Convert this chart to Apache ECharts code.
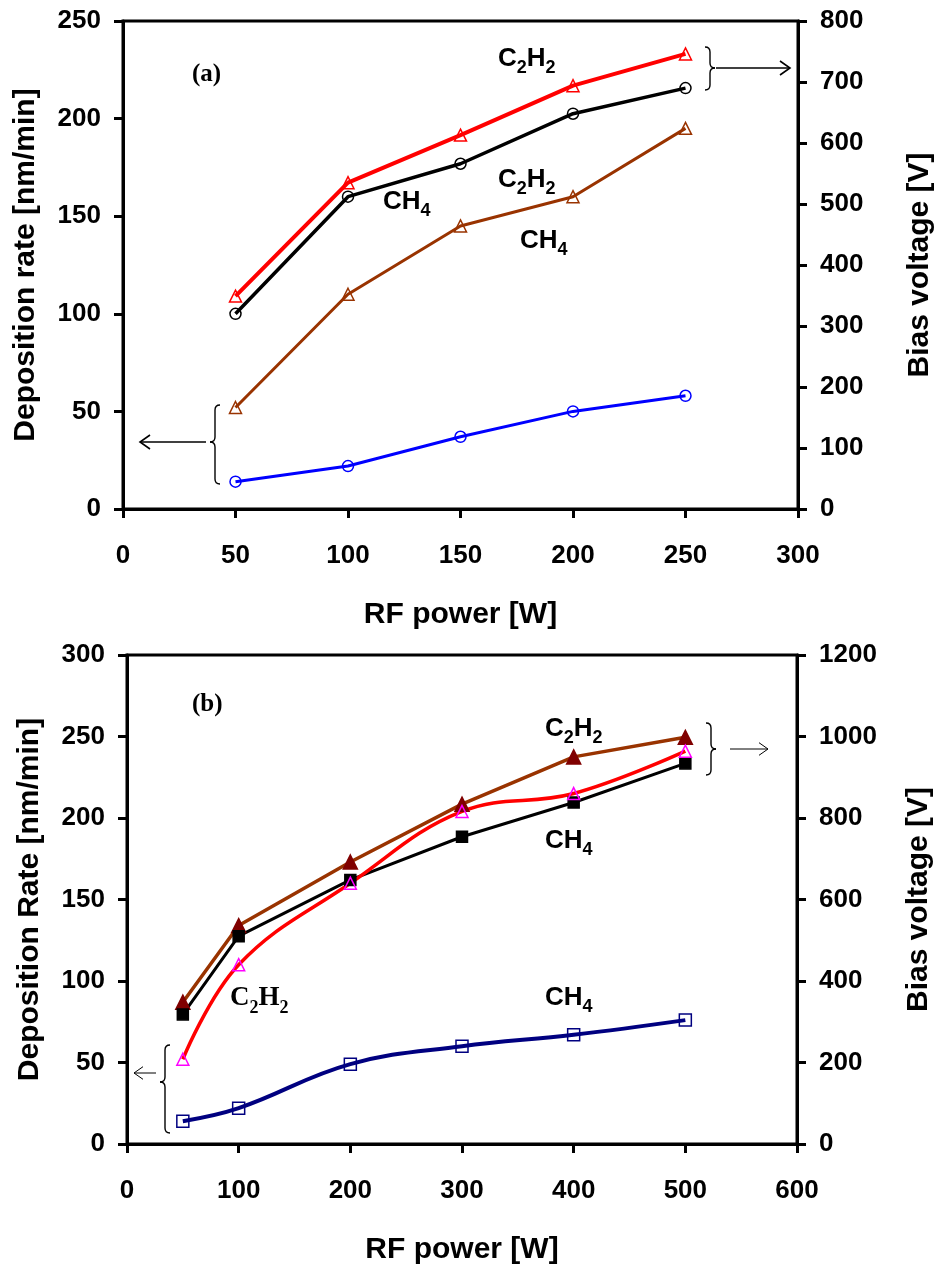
<!DOCTYPE html>
<html>
<head>
<meta charset="utf-8">
<script src="https://cdn.jsdelivr.net/npm/echarts@6/dist/echarts.min.js"></script>
<style>
html,body{margin:0;padding:0;background:#fff;}
#c{width:943px;height:1274px;}
</style>
</head>
<body>
<div id="c"></div>
<script>
// ---------- DATA ----------
// Panel (a)
const powerA = [50, 100, 150, 200, 250];
const biasA_C2H2 = [349, 535, 613, 694, 746];   // right axis, V
const biasA_CH4 = [320, 512, 566, 648, 690];    // right axis, V
const rateA_C2H2 = [52, 110, 145, 160, 195];    // left axis, nm/min
const rateA_CH4 = [14, 22, 37, 50, 58];         // left axis, nm/min
// Panel (b)
const powerB = [50, 100, 200, 300, 400, 500];
const biasB_C2H2 = [348, 536, 692, 834, 950, 998];
const biasB_CH4 = [318, 510, 648, 754, 838, 934];
const rateB_C2H2 = [52, 110, 160, 204, 215, 241];
const rateB_CH4 = [14, 22, 49, 60, 67, 76];
// Axis ranges / ticks
const xA = {min: 0, max: 300, interval: 50};
const yA_left = {min: 0, max: 250, interval: 50};
const yA_right = {min: 0, max: 800, interval: 100};
const xB = {min: 0, max: 600, interval: 100};
const yB_left = {min: 0, max: 300, interval: 50};
const yB_right = {min: 0, max: 1200, interval: 200};

const pairs = (xs, ys) => xs.map((x, i) => [x, ys[i]]);

const SANS = "'Liberation Sans', Arial, sans-serif";
const SERIF = "'Liberation Serif', 'Times New Roman', serif";
const TICK = 26, TITLE = 30;

function xAxis(grid, r) {
  return {
    type: 'value', gridIndex: grid, min: r.min, max: r.max, interval: r.interval,
    name: 'RF power [W]', nameLocation: 'middle', nameGap: 91,
    nameTextStyle: {fontFamily: SANS, fontWeight: 'bold', fontSize: TITLE, color: '#000'},
    axisLine: {show: true, lineStyle: {color: '#000', width: 3}},
    axisTick: {show: true, inside: false, length: 9, lineStyle: {color: '#000', width: 3}},
    axisLabel: {margin: 34, fontFamily: SANS, fontWeight: 'bold', fontSize: TICK, color: '#000',
      formatter: v => String(v)},
    splitLine: {show: false}
  };
}
function yAxis(grid, r, pos, name, gap) {
  return {
    type: 'value', gridIndex: grid, position: pos, min: r.min, max: r.max, interval: r.interval,
    name: name, nameLocation: 'middle', nameGap: gap,
    nameTextStyle: {fontFamily: SANS, fontWeight: 'bold', fontSize: TITLE, color: '#000'},
    axisLine: {show: true, onZero: false, lineStyle: {color: '#000', width: 3}},
    axisTick: {show: true, inside: false, length: 9, lineStyle: {color: '#000', width: 3}},
    axisLabel: {margin: 22, fontFamily: SANS, fontWeight: 'bold', fontSize: TICK, color: '#000',
      formatter: v => String(v)},
    splitLine: {show: false}
  };
}

function line(name, xi, yi, data, color, width, symbol, size, fill, border, smooth) {
  return {
    name: name, type: 'line', xAxisIndex: xi, yAxisIndex: yi, data: data,
    smooth: smooth || false, symbol: symbol, symbolSize: size, showSymbol: true,
    lineStyle: {color: color, width: width},
    itemStyle: {color: fill, borderColor: border, borderWidth: 1.5},
    emphasis: {disabled: true}, animation: false
  };
}

// rich text helpers for chemical formulas
function formula(parts, x, y, family, size) {
  return {
    type: 'text', left: x, top: y, z: 100,
    style: {
      text: parts, fill: '#000',
      rich: {
        n: {fontFamily: family, fontWeight: 'bold', fontSize: size, lineHeight: size + 10, verticalAlign: 'middle', fill: '#000'},
        s: {fontFamily: family, fontWeight: 'bold', fontSize: Math.round(size * 0.68), lineHeight: size + 10, verticalAlign: 'bottom', fill: '#000'}
      }
    }
  };
}
const C2H2 = '{n|C}{s|2}{n|H}{s|2}';
const CH4 = '{n|CH}{s|4}';

// curly brace elements
function brace(x0, y1, y2, ym, dir, w) {
  const d = dir * w;
  const s = {stroke: '#000', lineWidth: 1.4, fill: 'none'};
  return [
    {type: 'bezierCurve', shape: {x1: x0, y1: y1, cpx1: x0 + d, cpy1: y1, x2: x0 + d, y2: y1 + w}, style: s},
    {type: 'line', shape: {x1: x0 + d, y1: y1 + w, x2: x0 + d, y2: ym - w}, style: s},
    {type: 'bezierCurve', shape: {x1: x0 + d, y1: ym - w, cpx1: x0 + d, cpy1: ym, x2: x0 + 2 * d, y2: ym}, style: s},
    {type: 'bezierCurve', shape: {x1: x0 + 2 * d, y1: ym, cpx1: x0 + d, cpy1: ym, x2: x0 + d, y2: ym + w}, style: s},
    {type: 'line', shape: {x1: x0 + d, y1: ym + w, x2: x0 + d, y2: y2 - w}, style: s},
    {type: 'bezierCurve', shape: {x1: x0 + d, y1: y2 - w, cpx1: x0 + d, cpy1: y2, x2: x0, y2: y2}, style: s}
  ];
}
function arrow(xs, xe, y, lw, head) {
  const dir = xe > xs ? 1 : -1;
  const s = {stroke: '#000', lineWidth: lw, fill: 'none'};
  return [
    {type: 'line', shape: {x1: xs, y1: y, x2: xe, y2: y}, style: s},
    {type: 'polyline', shape: {points: [[xe - dir * head, y - head * 0.7], [xe, y], [xe - dir * head, y + head * 0.7]]}, style: s}
  ];
}

const graphics = [].concat(
  [{type: 'text', left: 192, top: 62, z: 100, style: {text: '(a)', fontFamily: SERIF, fontWeight: 'bold', fontSize: 25, fill: '#000'}}],
  [formula(C2H2, 498, 46, SANS, 26)],
  [formula(CH4, 383, 189, SANS, 26)],
  [formula(C2H2, 498, 167, SANS, 26)],
  [formula(CH4, 520, 228, SANS, 26)],
  brace(705, 47, 90, 68, 1, 5),
  arrow(716, 790, 68, 1.6, 10),
  brace(220, 405, 484, 442, -1, 5),
  arrow(206, 140, 442, 1.6, 10),
  [{type: 'text', left: 192, top: 692, z: 100, style: {text: '(b)', fontFamily: SERIF, fontWeight: 'bold', fontSize: 25, fill: '#000'}}],
  [formula(C2H2, 545, 716, SANS, 26)],
  [formula(CH4, 545, 828, SANS, 26)],
  [formula(C2H2, 230, 985, SERIF, 27)],
  [formula(CH4, 545, 985, SANS, 26)],
  brace(706, 723, 775, 749, 1, 5),
  arrow(730, 768, 749, 1, 9),
  brace(170, 1045, 1133, 1082, -1, 5),
  arrow(156, 134, 1073, 1, 9)
);

const option = {
  backgroundColor: '#fff',
  animation: false,
  grid: [
    {left: 123, right: 140, top: 21, height: 488, show: true, borderColor: '#000', borderWidth: 3, backgroundColor: 'transparent'},
    {left: 127, right: 146, top: 655, height: 489, show: true, borderColor: '#000', borderWidth: 3, backgroundColor: 'transparent'}
  ],
  xAxis: [xAxis(0, xA), xAxis(1, xB)],
  yAxis: [
    yAxis(0, yA_left, 'left', 'Deposition rate [nm/min]', 82),
    yAxis(0, yA_right, 'right', 'Bias voltage [V]', 107),
    yAxis(1, yB_left, 'left', 'Deposition Rate [nm/min]', 82),
    yAxis(1, yB_right, 'right', 'Bias voltage [V]', 107)
  ],
  series: [
    line('a bias C2H2', 0, 1, pairs(powerA, biasA_C2H2), '#ff0000', 4, 'triangle', 12, 'transparent', '#ff0000'),
    line('a bias CH4', 0, 1, pairs(powerA, biasA_CH4), '#000000', 3.5, 'circle', 11, 'transparent', '#000000'),
    line('a rate C2H2', 0, 0, pairs(powerA, rateA_C2H2), '#993300', 3, 'triangle', 12, 'transparent', '#993300'),
    line('a rate CH4', 0, 0, pairs(powerA, rateA_CH4), '#0000ff', 3, 'circle', 11, 'transparent', '#0000ff'),
    line('b bias C2H2', 1, 3, pairs(powerB, biasB_C2H2), '#993300', 3.5, 'triangle', 14, '#800000', '#800000'),
    line('b bias CH4', 1, 3, pairs(powerB, biasB_CH4), '#000000', 3, 'rect', 11, '#000000', '#000000'),
    line('b rate C2H2', 1, 2, pairs(powerB, rateB_C2H2), '#ff0000', 3.5, 'triangle', 12, 'transparent', '#ff00ff', 0.4),
    line('b rate CH4', 1, 2, pairs(powerB, rateB_CH4), '#000080', 4, 'rect', 12, 'transparent', '#000080', 0.4)
  ],
  graphic: graphics
};

const chart = echarts.init(document.getElementById('c'), null, {renderer: 'canvas'});
chart.setOption(option);
</script>
</body>
</html>
